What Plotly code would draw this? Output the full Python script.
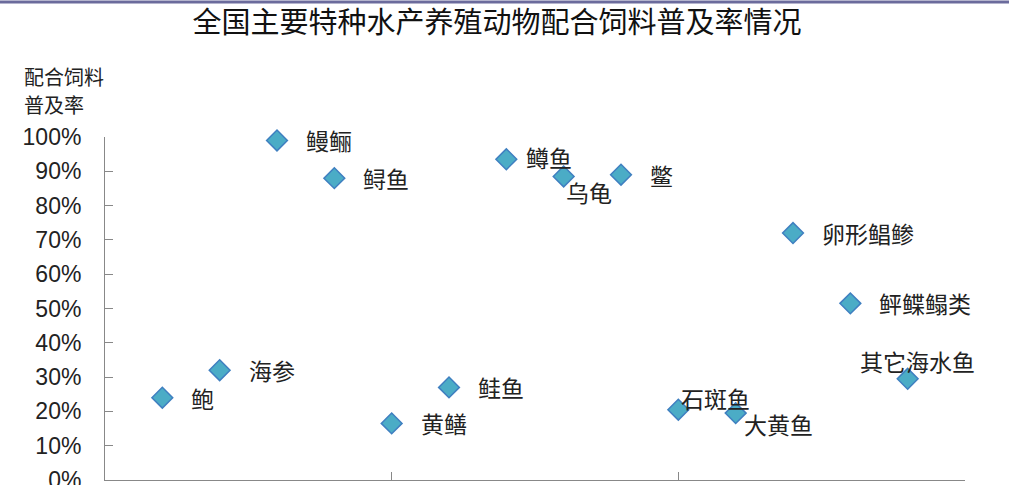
import plotly.graph_objects as go

species = ["鲍", "海参", "鳗鲡", "鲟鱼", "黄鳝", "鲑鱼", "鳟鱼", "乌龟", "鳖",
           "石斑鱼", "大黄鱼", "卵形鲳鲹", "鲆鲽鳎类", "其它海水鱼"]
x_pos = [1, 2, 3, 4, 5, 6, 7, 8, 9, 10, 11, 12, 13, 14]
rate = [0.24, 0.32, 0.99, 0.88, 0.165, 0.27, 0.935, 0.885, 0.89,
        0.205, 0.195, 0.72, 0.515, 0.295]
y_title_lines = ["配合饲料", "普及率"]

# label placement style: (xanchor, xshift, yshift)
label_style = {
    "鳟鱼": ("left", 18, 2),
    "乌龟": ("left", 0, -16),
    "石斑鱼": ("left", 1, 12),
    "大黄鱼": ("left", 6, -11),
    "其它海水鱼": ("center", 10, 18),
}

fig = go.Figure()
fig.add_trace(go.Scatter(
    x=x_pos, y=rate, mode="markers", cliponaxis=False,
    marker=dict(symbol="diamond", size=16, color="#4BACC6",
                line=dict(color="#3F7FC0", width=1.5)),
    hoverinfo="skip", showlegend=False,
))

for name, xv, yv in zip(species, x_pos, rate):
    xa, xs, ys = label_style.get(name, ("left", 27, 0))
    fig.add_annotation(x=xv, y=yv, text=name, showarrow=False,
                       xanchor=xa, yanchor="middle", xshift=xs, yshift=ys,
                       font=dict(family="Noto Sans CJK SC", size=23, color="#222222"))

for i, line in enumerate(y_title_lines):
    fig.add_annotation(xref="paper", yref="paper", x=-0.0965,
                       y=1 + (137 - 76 - 29 * i) / 343,
                       text=line, showarrow=False, align="left",
                       xanchor="left", yanchor="middle",
                       font=dict(family="Noto Sans CJK SC", size=20, color="#222222"))

fig.add_shape(type="line", xref="paper", yref="paper",
              x0=-0.2, x1=1.2, y0=1 + 135/343, y1=1 + 135/343,
              line=dict(color="#6B6B9C", width=3))

fig.update_layout(
    width=1009, height=485,
    margin=dict(l=105, r=44, t=137, b=5),
    paper_bgcolor="white", plot_bgcolor="white",
    title=dict(text="全国主要特种水产养殖动物配合饲料普及率情况",
               x=0.4926, xanchor="center", y=0.952, yanchor="middle",
               font=dict(family="Noto Sans CJK SC", size=29, color="#111111")),
    xaxis=dict(range=[0, 15], tickvals=[0, 5, 10, 15], showticklabels=False,
               ticks="inside", ticklen=8, tickcolor="#888888",
               showline=True, linecolor="#888888", linewidth=1,
               showgrid=False, zeroline=False, fixedrange=True, automargin=False),
    yaxis=dict(range=[0, 1], dtick=0.1, tickformat=".0%",
               ticks="inside", ticklen=8, tickcolor="#888888",
               showline=True, linecolor="#888888", linewidth=1,
               showgrid=False, zeroline=False, ticklabelstandoff=18,
               ticklabeloverflow="allow", automargin=False,
               tickfont=dict(family="Liberation Sans, Arial", size=23, color="#222222")),
)

fig.write_html("out.html", config={"displayModeBar": False},
               post_script="document.body.style.margin='0';document.body.style.padding='0';")
